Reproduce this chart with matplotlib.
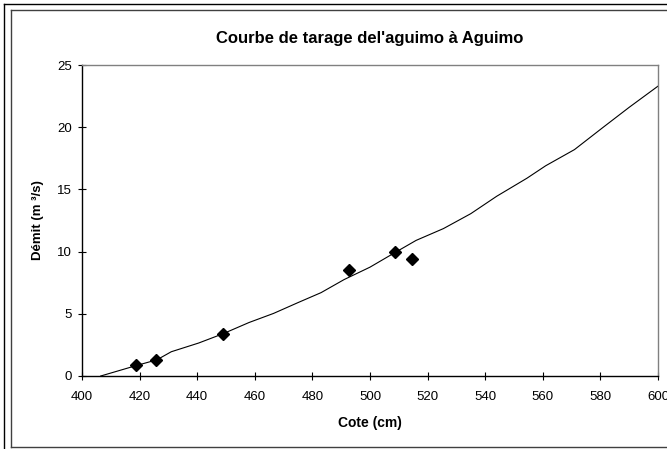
import matplotlib
matplotlib.use("Agg")
import matplotlib.pyplot as plt
from matplotlib.lines import Line2D

plt.rcParams['font.family'] = ['Liberation Sans', 'DejaVu Sans']

# Measured points (cote in cm, debit in m3/s)
obs_cote = [418.8, 425.7, 449.0, 492.7, 508.7, 514.7]
obs_debit = [0.9, 1.3, 3.4, 8.5, 9.95, 9.4]

# Rating curve
curve_cote = [406.5, 419, 426, 431, 440.5, 449, 458, 466.5, 475, 483, 491,
              500, 508.5, 516, 525.5, 535, 544, 554.5, 561, 571, 581, 590, 600]
curve_debit = [0, 0.85, 1.3, 1.95, 2.65, 3.4, 4.3, 5.03, 5.9, 6.7, 7.75,
               8.75, 9.9, 10.9, 11.85, 13.05, 14.45, 15.9, 16.9, 18.2, 20.0, 21.6, 23.3]

x_ticks = list(range(400, 601, 20))
y_ticks = [0, 5, 10, 15, 20, 25]

W, H = 667, 449
fig = plt.figure(figsize=(W / 100, H / 100), dpi=100)

ax = fig.add_axes([82 / W, 1 - 376 / H, (658 - 82) / W, (376 - 65) / H])
ax.plot(curve_cote, curve_debit, color='black', linewidth=0.8, zorder=2)
ax.plot(obs_cote, obs_debit, linestyle='none', marker='D', markersize=6,
        color='black', zorder=3)

ax.set_xlim(400, 600)
ax.set_ylim(0, 25)
ax.set_xticks(x_ticks)
ax.set_yticks(y_ticks)
ax.tick_params(direction='inout', length=6, width=0.8, labelsize=9.5, color='black')
ax.tick_params(axis='x', pad=8)
ax.tick_params(axis='y', pad=4)
for s in ['left', 'bottom']:
    ax.spines[s].set_color('black')
    ax.spines[s].set_linewidth(1.0)
for s in ['top', 'right']:
    ax.spines[s].set_color('#808080')
    ax.spines[s].set_linewidth(1.0)

ax.set_xlabel('Cote (cm)', fontsize=10, fontweight='bold', labelpad=9)
ax.set_ylabel('Démit (m ³/s)', fontsize=9.5, fontweight='bold', labelpad=10)

fig.text(370 / W, 1 - 39 / H, "Courbe de tarage del'aguimo à Aguimo",
         ha='center', va='center', fontsize=12, fontweight='bold')

# Chart frames
def px_line(x0, y0, x1, y1, color, lw=1.0):
    fig.add_artist(Line2D([x0 / W, x1 / W], [1 - y0 / H, 1 - y1 / H],
                          transform=fig.transFigure, color=color, linewidth=lw))

px_line(3.5, 3.5, 3.5, H, 'black')
px_line(3.5, 3.5, W, 3.5, 'black')
px_line(11, 9.5, 11, 447, '#404040')
px_line(11, 9.5, W, 9.5, '#404040')
px_line(11, 447, W, 447, '#404040')

fig.savefig('out.png', dpi=100)
